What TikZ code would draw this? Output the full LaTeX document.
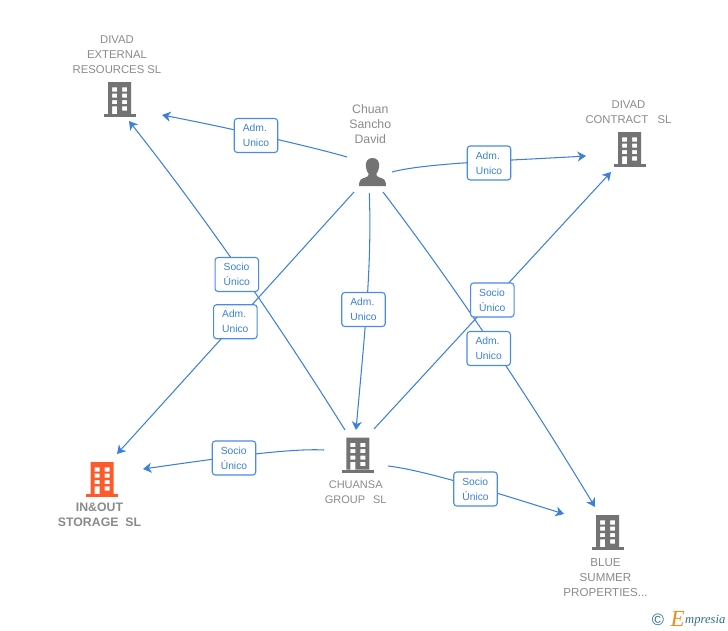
\documentclass[tikz,border=0pt]{standalone}
\usepackage{fontspec}
\setmainfont{Liberation Sans}
\newfontfamily\logofont{Liberation Serif}
\usetikzlibrary{arrows.meta}
\definecolor{linkblue}{HTML}{3C80DE}
\definecolor{boxblue}{HTML}{4A8BE4}
\definecolor{txtgrey}{HTML}{8A8A8A}
\definecolor{icongrey}{HTML}{737373}
\definecolor{iconorange}{HTML}{FF5A2B}
\definecolor{logoteal}{HTML}{2B7287}
\definecolor{logoorange}{HTML}{F28A1E}
\tikzset{
  conn/.style={draw=linkblue,line width=1.05pt,-{Stealth[length=8.5pt,width=10pt,inset=2.5pt]}},
  relbox/.style={draw=boxblue,fill=white,rounded corners=3pt,line width=1.1pt,minimum width=43.5pt,minimum height=34pt,inner sep=0pt,text=linkblue,font=\fontsize{10.3}{15}\selectfont,align=left},
  entname/.style={text=txtgrey,font=\fontsize{11.3}{15}\selectfont,align=center,inner sep=0pt},
  boldname/.style={entname,font=\fontsize{12.3}{15}\selectfont\bfseries},
  pics/bldg/.style={code={
    \fill[#1] (-16,-3) rectangle (16,0);
    \fill[#1,even odd rule] (-11.5,-35) rectangle (11.5,-3)
      (-7.5,-29.7) rectangle (-2.5,-25.5) (2.5,-29.7) rectangle (7.5,-25.5)
      (-7.5,-23.5) rectangle (-2.5,-19.3) (2.5,-23.5) rectangle (7.5,-19.3)
      (-7.5,-17) rectangle (-2.5,-12.8) (2.5,-17) rectangle (7.5,-12.8)
      (-7.5,-10.7) rectangle (-2.5,-3) (2.5,-10.7) rectangle (7.5,-6.5);
  }},
}
\begin{document}
\begin{tikzpicture}[x=1pt,y=-1pt]
\useasboundingbox (0,0) rectangle (728,630);
% entity icons
\pic at (119.5,117) {bldg=icongrey};
\pic at (629.5,167) {bldg=icongrey};
\pic at (357.8,472.5) {bldg=icongrey};
\pic at (102,497) {bldg=iconorange};
\pic at (607.5,550) {bldg=icongrey};
\fill[icongrey] (372.5,158) .. controls (367.5,158) and (365.3,162) .. (365.8,166.5) .. controls (366.1,170) and (367.3,172) .. (368.6,173.8) .. controls (368.9,175.8) and (368,176.6) .. (365.5,177.4) .. controls (361,178.8) and (359.2,180) .. (359.2,183) -- (359.2,186) -- (385.8,186) -- (385.8,183) .. controls (385.8,180) and (384,178.8) .. (379.5,177.4) .. controls (377,176.6) and (376.1,175.8) .. (376.4,173.8) .. controls (377.7,172) and (378.9,170) .. (379.2,166.5) .. controls (379.7,162) and (377.5,158) .. (372.5,158) -- cycle;
% entity names
\node[entname] (ext) at (117,55) {DIVAD\\EXTERNAL\\RESOURCES SL};
\node[entname,font=\fontsize{12.3}{15}\selectfont] (chuan) at (370.3,124) {Chuan\\Sancho\\David};
\node[entname] (contract) at (628.5,112) {DIVAD\\CONTRACT\ \ \ SL};
\node[entname,font=\fontsize{11}{15}\selectfont] (group) at (355.7,492) {CHUANSA\\GROUP\ \ \,SL};
\node[boldname] (inout) at (99.5,515) {IN\&OUT\\STORAGE\ \ SL};
\node[entname,font=\fontsize{11.6}{15}\selectfont] (blue) at (605.5,577.5) {BLUE\\SUMMER\\PROPERTIES...};
% connector ends
\coordinate (a1) at (347,157); \coordinate (b1) at (162,115);
\coordinate (a2) at (392,172); \coordinate (b2) at (586,156);
\coordinate (a3) at (354,192); \coordinate (b3) at (117,454);
\coordinate (a4) at (369.3,193); \coordinate (b4) at (356,430);
\coordinate (a5) at (383,192); \coordinate (b5) at (595,507);
\coordinate (a6) at (345,430); \coordinate (b6) at (129,121);
\coordinate (a7) at (374,429); \coordinate (b7) at (611,172);
\coordinate (a8) at (324,450); \coordinate (b8) at (143,469);
\coordinate (a9) at (388,466); \coordinate (b9) at (564,514);
% connectors
\draw[conn] (a1) .. controls (320,149) and (240,130) .. (b1);
\draw[conn] (a2) .. controls (425,163) and (510,160.5) .. (b2);
\draw[conn] (a3) -- (b3);
\draw[conn] (a4) .. controls (372,265) and (365,330) .. (b4);
\draw[conn] (a5) .. controls (453.7,285) and (524.3,390) .. (b5);
\draw[conn] (a6) .. controls (273,315) and (201,212) .. (b6);
\draw[conn] (a7) -- (b7);
\draw[conn] (a8) .. controls (290,448) and (220,458) .. (b8);
\draw[conn] (a9) .. controls (425,470) and (510,497) .. (b9);
% relation labels
\node[relbox] (r1) at (256,135.5) {Adm.\\Unico};
\node[relbox] (r2) at (489,163) {Adm.\\Unico};
\node[relbox] (r3) at (235.3,321.7) {Adm.\\Unico};
\node[relbox] (r4) at (363.5,309.5) {Adm.\\Unico};
\node[relbox] (r5) at (488.7,348.5) {Adm.\\Unico};
\node[relbox] (r6) at (236.8,274.5) {Socio\\Único};
\node[relbox] (r7) at (492.3,300) {Socio\\Único};
\node[relbox] (r8) at (234,458) {Socio\\Único};
\node[relbox] (r9) at (475.5,489) {Socio\\Único};
% logo
\node[inner sep=0pt,text=logoteal,font=\fontsize{16.5}{16.5}\selectfont] (copy) at (658,619.5) {©};
\node[inner sep=0pt,anchor=base west,text=logoorange,font=\logofont\itshape\fontsize{23}{23}\selectfont] (logoe) at (670.5,626) {E};
\node[inner sep=0pt,anchor=base west,text=logoteal,font=\logofont\itshape\fontsize{12.6}{12.6}\selectfont] (logot) at (685,623.5) {mpresia};
\end{tikzpicture}
\end{document}
